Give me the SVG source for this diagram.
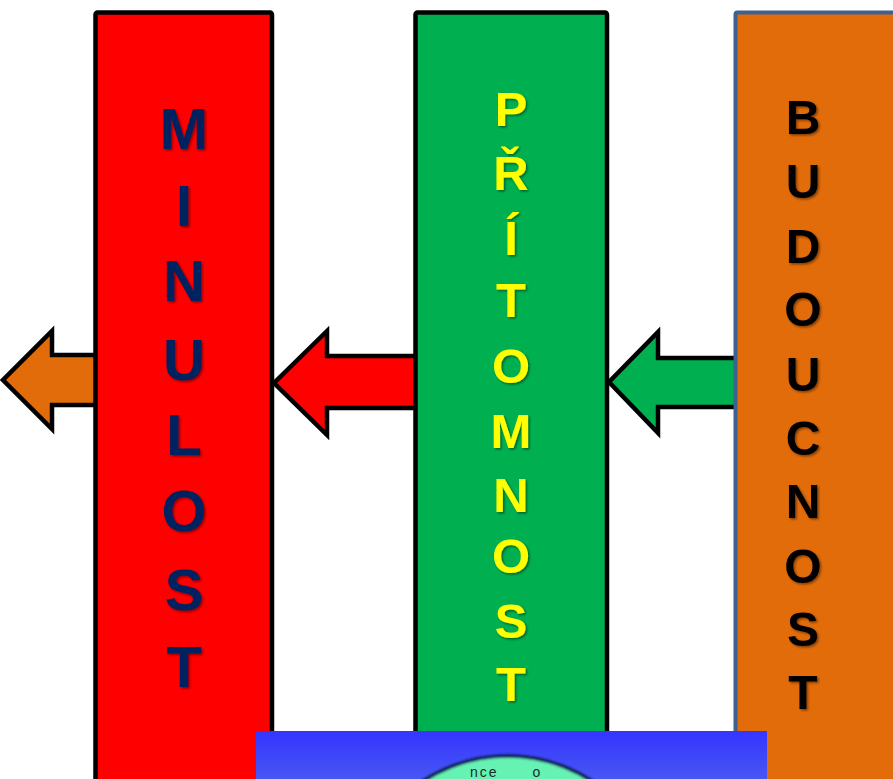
<svg xmlns="http://www.w3.org/2000/svg" width="893" height="779" viewBox="0 0 893 779">
<style>
.col{stroke-width:4.5;stroke-linejoin:round}
.arrow{stroke:#000;stroke-width:4.5;stroke-linejoin:miter}
.lt{font-family:"Liberation Sans",Arial,sans-serif;font-weight:bold;text-anchor:middle}
.m{fill:#002060;font-size:58px}
.p{fill:#ffff00;font-size:49px}
.b{fill:#000;font-size:48px}
</style>
<defs>
<filter id="sh" x="-20%" y="-20%" width="150%" height="150%">
<feDropShadow dx="1.5" dy="1.5" stdDeviation="1" flood-color="#000" flood-opacity="0.45"/>
</filter>
<linearGradient id="bg" x1="0" y1="0" x2="0" y2="1">
<stop offset="0" stop-color="#3535ff"/>
<stop offset="1" stop-color="#4c5ff0"/>
</linearGradient>
<filter id="blur" x="-10%" y="-10%" width="120%" height="120%">
<feGaussianBlur stdDeviation="0.8"/>
</filter>
</defs>
<rect width="893" height="779" fill="#fff"/>
<g id="connectors">
<polygon class="arrow" fill="#e36c0a" points="100,355 52,355 52,331 3,380 52,429 52,405 100,405"/>
<polygon class="arrow" fill="#ff0000" points="420,356 327,356 327,331 274,383 327,435 327,408 420,408"/>
<polygon class="arrow" fill="#00b050" points="740,358 658,358 658,332 609,382 658,433 658,407 740,407"/>
</g>
<g id="minulost">
<rect class="col" x="95.5" y="12.5" width="176.5" height="790" rx="2" fill="#ff0000" stroke="#000"/>
<g class="lt m" filter="url(#sh)">
<text x="184" y="149">M</text>
<text x="184" y="226">I</text>
<text x="184" y="301">N</text>
<text x="184" y="380">U</text>
<text x="184" y="455">L</text>
<text x="184" y="531">O</text>
<text x="184" y="610">S</text>
<text x="184" y="687">T</text>
</g>
</g>
<g id="pritomnost">
<rect class="col" x="415.5" y="12.5" width="191.5" height="790" rx="2" fill="#00b050" stroke="#000"/>
<g class="lt p" filter="url(#sh)">
<text x="511" y="126">P</text>
<text x="511" y="190">Ř</text>
<text x="511" y="255">Í</text>
<text x="511" y="317">T</text>
<text x="511" y="383">O</text>
<text x="511" y="448">M</text>
<text x="511" y="512">N</text>
<text x="511" y="573">O</text>
<text x="511" y="638">S</text>
<text x="511" y="701">T</text>
</g>
</g>
<g id="budoucnost">
<rect x="735.5" y="12.5" width="200" height="790" rx="2" fill="#e36c0a" stroke="#3d6190" stroke-width="4"/>
<g class="lt b" filter="url(#sh)">
<text x="803" y="134">B</text>
<text x="803" y="198">U</text>
<text x="803" y="263">D</text>
<text x="803" y="326">O</text>
<text x="803" y="391">U</text>
<text x="803" y="455">C</text>
<text x="803" y="518">N</text>
<text x="803" y="583">O</text>
<text x="803" y="646">S</text>
<text x="803" y="709">T</text>
</g>
</g>
<g id="bottom">
<rect x="256" y="731" width="511" height="60" fill="url(#bg)"/>
<circle cx="507.5" cy="910" r="154" fill="#66f2b2" stroke="#0d1f55" stroke-width="3.5" filter="url(#blur)"/>
<text x="470" y="777" font-family="Liberation Sans,Arial,sans-serif" font-size="14" fill="#1a2a2a" letter-spacing="2" word-spacing="28">nce o</text>
</g>
</svg>
